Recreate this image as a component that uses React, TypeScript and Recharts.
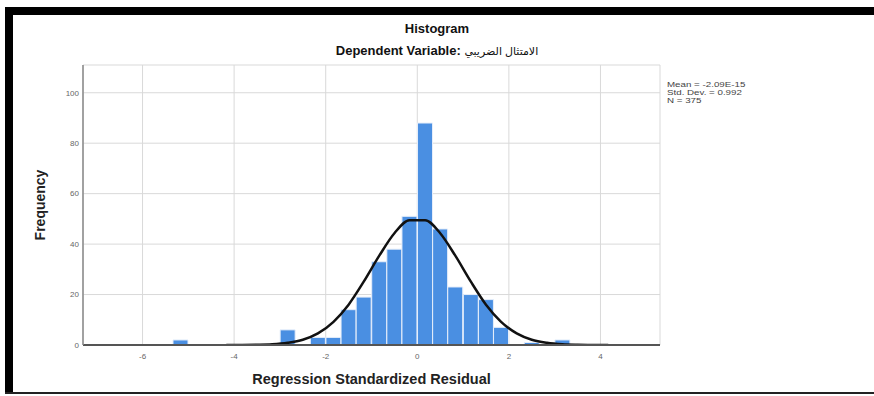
import { ComposedChart, Bar, Line, XAxis, YAxis, CartesianGrid } from "recharts"

// bin centres (bin width ~1/3), counts and the fitted normal curve
const binCenters = [
  -5.17, -4.83, -4.5, -4.17, -3.83, -3.5, -3.17, -2.83, -2.5, -2.17, -1.83, -1.5, -1.17, -0.83, -0.5, -0.17,
  0.17, 0.5, 0.83, 1.17, 1.5, 1.83, 2.17, 2.5, 2.83, 3.17, 3.5, 3.83, 4.17,
]
const counts = [2, 0, 0, 0, 0, 0, 0, 6, 0, 3, 3, 14, 19, 33, 38, 51, 88, 46, 23, 20, 18, 7, 0, 1, 0, 2, 0, 0, 0]
const normalCurve = [
  null, null, null, 0.01, 0.03, 0.1, 0.3, 0.9, 2.1, 4.6, 9.2, 16.0, 25.1, 35.4, 44.3, 49.5,
  49.5, 44.3, 35.4, 25.1, 16.0, 9.2, 4.6, 2.1, 0.9, 0.3, 0.1, 0.03, 0.01,
]
const xTicks = [-6, -4, -2, 0, 2, 4]
const yTicks = [0, 20, 40, 60, 80, 100]
const statsLines = ["Mean = -2.09E-15", "Std. Dev. = 0.992", "N = 375"]

const data = binCenters.map((x, i) => ({ x, count: counts[i], curve: normalCurve[i] }))

const font = "'Liberation Sans', Arial, 'DejaVu Sans', sans-serif"
const tick = { fontSize: 8, fill: "#666", fontFamily: font }

export default function App() {
  return (
    <div style={{ position: "absolute", left: 0, top: 0, width: 874, height: 396, background: "#fff", fontFamily: font, overflow: "hidden" }}>
      {/* black frame */}
      <div style={{ position: "absolute", left: 5, top: 7, width: 869, height: 8, background: "#000" }} />
      <div style={{ position: "absolute", left: 5, top: 7, width: 8, height: 387, background: "#000" }} />
      <div style={{ position: "absolute", left: 5, top: 392, width: 869, height: 2, background: "#222" }} />

      <div style={{ position: "absolute", left: 0, top: 22, width: 874, textAlign: "center", fontSize: 13, fontWeight: "bold", lineHeight: "14px", color: "#111" }}>
        Histogram
      </div>
      <div style={{ position: "absolute", left: 0, top: 44, width: 874, textAlign: "center", fontSize: 13, fontWeight: "bold", lineHeight: "14px", color: "#111" }}>
        Dependent Variable: <span style={{ fontSize: 11, fontWeight: "normal" }}>الامتثال الضريبي</span>
      </div>

      <ComposedChart width={874} height={396} data={data} barCategoryGap={0} barGap={0}
        margin={{ top: 65, right: 214, bottom: 31, left: 45 }}>
        <CartesianGrid stroke="#d9d9d9" strokeWidth={1} />
        <XAxis dataKey="x" type="number" domain={[-7.3, 5.3]} ticks={xTicks} tick={tick}
          tickLine={false} axisLine={{ stroke: "#555", strokeWidth: 2 }} height={20} allowDataOverflow />
        <YAxis type="number" domain={[0, 111]} ticks={yTicks} tick={tick} tickLine={false} tickSize={2} tickMargin={2}
          axisLine={{ stroke: "#888", strokeWidth: 1.5 }} width={38} allowDataOverflow />
        <Bar dataKey="count" fill="#4a8fe2" stroke="#e6eefa" strokeWidth={1} isAnimationActive={false} />
        <Line dataKey="curve" type="monotone" stroke="#111" strokeWidth={2.5} dot={false} activeDot={false}
          connectNulls={false} isAnimationActive={false} />
      </ComposedChart>

      <div style={{ position: "absolute", left: 0, top: 197, width: 80, height: 16, transform: "rotate(-90deg)", transformOrigin: "40px 8px", textAlign: "center", fontSize: 14, fontWeight: "bold", lineHeight: "16px", color: "#222" }}>
        Frequency
      </div>
      <div style={{ position: "absolute", left: 83, top: 371, width: 577, textAlign: "center", fontSize: 14.5, fontWeight: "bold", lineHeight: "16px", color: "#222" }}>
        Regression Standardized Residual
      </div>

      <div style={{ position: "absolute", left: 667, top: 81, fontSize: 7.5, lineHeight: "8px", color: "#444", transform: "scaleX(1.3)", transformOrigin: "left top" }}>
        {statsLines.map(s => <div key={s}>{s}</div>)}
      </div>
    </div>
  )
}
